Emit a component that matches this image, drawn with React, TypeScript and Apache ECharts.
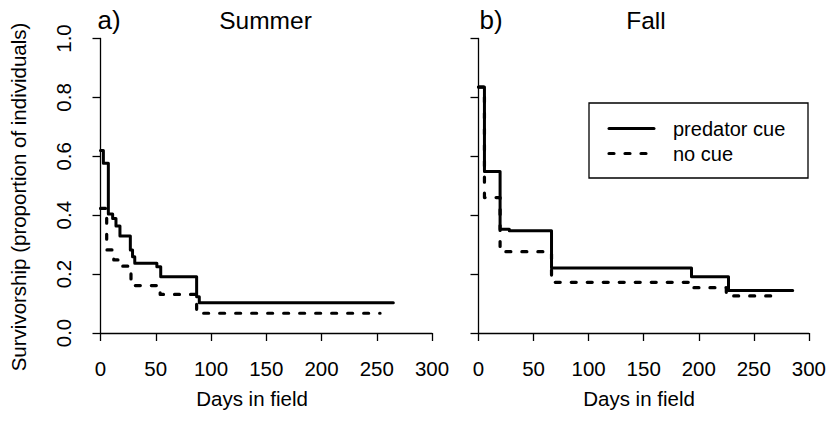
import React, { useEffect, useRef } from "react";
import * as echarts from "echarts";

// Summer panel (a)
const summerCueDays = [0, 2.6, 7.1, 11, 14, 17.6, 27, 29, 31, 51, 54.5, 87, 89.4, 265];
const summerCueSurv = [0.62, 0.576, 0.404, 0.389, 0.363, 0.329, 0.282, 0.259, 0.237, 0.225, 0.191, 0.123, 0.103, 0.103];
const summerNoCueDays = [0, 5.6, 12, 20, 27.6, 54, 87, 253];
const summerNoCueSurv = [0.423, 0.282, 0.248, 0.227, 0.161, 0.131, 0.067, 0.067];

// Fall panel (b)
const fallCueDays = [0, 5.4, 19.6, 28, 66.3, 193.4, 227, 285.3];
const fallCueSurv = [0.835, 0.548, 0.352, 0.347, 0.221, 0.191, 0.144, 0.144];
const fallNoCueDays = [0, 5.4, 19.6, 66.3, 193, 225, 270.6];
const fallNoCueSurv = [0.835, 0.46, 0.276, 0.172, 0.154, 0.126, 0.126];

const xTicks = [0, 50, 100, 150, 200, 250, 300];
const yTicks = [0, 0.2, 0.4, 0.6, 0.8, 1.0];
const seriesNames = ["predator cue", "no cue"];
const panelLabels = ["a)", "b)"];
const panelTitles = ["Summer", "Fall"];
const xTitle = "Days in field";
const yTitle = "Survivorship (proportion of individuals)";

const FONT = "Liberation Sans, Arial, Helvetica, sans-serif";
const INK = "#000";

function zip(xs: number[], ys: number[]) {
  return xs.map((x, i) => [x, ys[i]]);
}

export default function App() {
  const ref = useRef<HTMLDivElement>(null);
  useEffect(() => {
    if (!ref.current) return;
    const chart = echarts.init(ref.current, undefined, { renderer: "svg" });
    const gridTop = 38.5;
    const gridH = 294.5;
    const gridW = 331.5;
    const lefts = [100.5, 478.5];

    const makeX = (i: number) => ({
      type: "value",
      gridIndex: i,
      min: xTicks[0],
      max: xTicks[xTicks.length - 1],
      interval: 50,
      offset: 14,
      position: "bottom",
      axisLine: { show: true, lineStyle: { color: INK, width: 1.3 } },
      axisTick: { show: true, length: 8, lineStyle: { color: INK, width: 1.3 } },
      axisLabel: { fontSize: 20.5, color: INK, fontFamily: FONT, margin: 11 },
      splitLine: { show: false },
    });
    const makeY = (i: number) => ({
      type: "value",
      gridIndex: i,
      min: yTicks[0],
      max: yTicks[yTicks.length - 1],
      interval: 0.2,
      offset: 14,
      position: "left",
      axisLine: { show: true, lineStyle: { color: INK, width: 1.3 } },
      axisTick: { show: true, length: 8, lineStyle: { color: INK, width: 1.3 } },
      axisLabel: {
        show: i === 0,
        rotate: 90,
        fontSize: 20.5,
        color: INK,
        fontFamily: FONT,
        margin: 13,
        formatter: (v: number) => v.toFixed(1),
      },
      splitLine: { show: false },
    });

    const solidStyle = { color: INK, width: 3, cap: "round", join: "round" };
    const dashStyle = { color: INK, width: 3.2, type: [5, 11], cap: "round", join: "round" };
    const mk = (name: string, xi: number, data: number[][], dashed: boolean) => ({
      type: "line",
      name,
      xAxisIndex: xi,
      yAxisIndex: xi,
      step: "end",
      symbol: "none",
      showSymbol: false,
      clip: false,
      data,
      lineStyle: dashed ? dashStyle : solidStyle,
      z: dashed ? 2 : 3,
    });

    const txt = (text: string, x: number, y: number, size: number, extra: any = {}) => ({
      type: "text",
      x,
      y,
      style: {
        text,
        fontSize: size,
        fontFamily: FONT,
        fill: INK,
        textAlign: "center",
        textVerticalAlign: "middle",
        ...extra,
      },
    });

    const legX = 589;
    const legY = 103;

    chart.setOption({
      animation: false,
      backgroundColor: "#fff",
      grid: lefts.map((l) => ({ left: l, top: gridTop, width: gridW, height: gridH })),
      xAxis: [makeX(0), makeX(1)],
      yAxis: [makeY(0), makeY(1)],
      series: [
        mk(seriesNames[0], 0, zip(summerCueDays, summerCueSurv), false),
        mk(seriesNames[1], 0, zip(summerNoCueDays, summerNoCueSurv), true),
        mk(seriesNames[0], 1, zip(fallCueDays, fallCueSurv), false),
        mk(seriesNames[1], 1, zip(fallNoCueDays, fallNoCueSurv), true),
      ],
      graphic: [
        txt(panelLabels[0], 109, 20, 26),
        txt(panelTitles[0], 265.5, 20, 24.5),
        txt(panelLabels[1], 491, 20, 26),
        txt(panelTitles[1], 646, 20, 24.5),
        txt(xTitle, 252, 398, 20.5),
        txt(xTitle, 639, 398, 20.5),
        {
          type: "text",
          x: 18,
          y: 197,
          rotation: Math.PI / 2,
          style: {
            text: yTitle,
            fontSize: 20.5,
            fontFamily: FONT,
            fill: INK,
            textAlign: "center",
            textVerticalAlign: "middle",
          },
        },
        {
          type: "rect",
          shape: { x: legX, y: legY, width: 219, height: 75 },
          style: { fill: "#fff", stroke: INK, lineWidth: 1.3 },
          z: 10,
        },
        {
          type: "line",
          shape: { x1: legX + 20, y1: legY + 25.5, x2: legX + 65, y2: legY + 25.5 },
          style: { stroke: INK, lineWidth: 3, lineCap: "round" },
          z: 11,
        },
        {
          type: "line",
          shape: { x1: legX + 20, y1: legY + 50.5, x2: legX + 65, y2: legY + 50.5 },
          style: { stroke: INK, lineWidth: 3.2, lineCap: "round", lineDash: [5, 11] },
          z: 11,
        },
        { ...txt(seriesNames[0], legX + 84, legY + 25.5, 20, { textAlign: "left" }), z: 11 },
        { ...txt(seriesNames[1], legX + 84, legY + 50.5, 20, { textAlign: "left" }), z: 11 },
      ],
    });
    return () => chart.dispose();
  }, []);
  return (
    <div
      ref={ref}
      style={{ position: "fixed", left: 0, top: 0, width: 829, height: 422 }}
    />
  );
}
